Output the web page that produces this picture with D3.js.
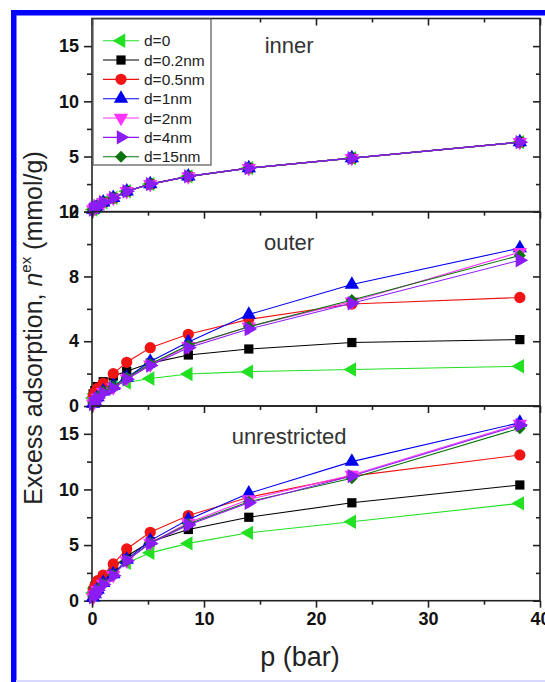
<!DOCTYPE html>
<html>
<head>
<meta charset="utf-8">
<script src="https://cdn.jsdelivr.net/npm/d3@7"></script>
<style>
  body { margin: 0; background: #fff; }
  text { font-family: "Liberation Sans", Arial, sans-serif; }
</style>
</head>
<body>
<div id="chart"></div>
<script>
// pressures shared by every isotherm (bar)
var pressure = [0.1, 0.25, 0.5, 1.0, 1.9, 3.1, 5.2, 8.6, 14.0, 23.2, 38.2];

var seriesLabels = ["d=0", "d=0.2nm", "d=0.5nm", "d=1nm", "d=2nm", "d=4nm", "d=15nm"];
var panelTitles = ["inner", "outer", "unrestricted"];
var yTicksInner = [0, 5, 10, 15];
var yTicksOuter = [0, 4, 8, 12];
var yTicksUnres = [0, 5, 10, 15];
var xTicks = [0, 10, 20, 30, 40];

// inner: all seven curves lie on top of each other
var innerAll = [0.2, 0.35, 0.5, 0.85, 1.25, 1.85, 2.5, 3.2, 3.95, 4.85, 6.3];

// outer
var outerD0  = [0.5, 0.75, 0.95, 1.15, 1.35, 1.45, 1.7, 1.98, 2.12, 2.25, 2.45];
var outerD02 = [0.75, 0.95, 1.2, 1.5, 1.85, 2.15, 2.65, 3.15, 3.52, 3.92, 4.1];
var outerD05 = [0.6, 0.85, 1.1, 1.4, 2.0, 2.7, 3.6, 4.43, 5.35, 6.3, 6.7];
var outerD1  = [0.15, 0.3, 0.55, 0.9, 1.25, 1.75, 2.75, 3.95, 5.65, 7.5, 9.75];
var outerD2  = [0.15, 0.3, 0.5, 0.85, 1.15, 1.7, 2.55, 3.7, 4.9, 6.45, 9.5];
var outerD4  = [0.12, 0.28, 0.5, 0.8, 1.1, 1.65, 2.5, 3.6, 4.75, 6.35, 9.0];
var outerD15 = [0.18, 0.35, 0.55, 0.9, 1.2, 1.75, 2.6, 3.75, 4.9, 6.55, 9.3];

// unrestricted
var unrD0  = [0.7, 1.1, 1.5, 1.9, 2.6, 3.4, 4.3, 5.15, 6.1, 7.1, 8.75];
var unrD02 = [0.9, 1.3, 1.7, 2.2, 3.0, 4.0, 5.3, 6.4, 7.5, 8.8, 10.4];
var unrD05 = [0.8, 1.3, 1.8, 2.3, 3.3, 4.65, 6.15, 7.65, 9.3, 11.2, 13.1];
var unrD1  = [0.3, 0.6, 1.0, 1.6, 2.4, 3.7, 5.4, 7.3, 9.65, 12.5, 16.0];
var unrD2  = [0.3, 0.55, 0.95, 1.5, 2.3, 3.6, 5.2, 7.0, 9.1, 11.3, 15.9];
var unrD4  = [0.3, 0.55, 0.95, 1.45, 2.25, 3.6, 5.15, 6.8, 8.8, 11.2, 15.8];
var unrD15 = [0.35, 0.6, 1.0, 1.5, 2.3, 3.6, 5.2, 6.9, 8.9, 11.0, 15.5];

var width = 545, height = 682;
var left = 92, right = 540;
var colors = ["#22e022", "#000000", "#f01414", "#0000f0", "#ff33ff", "#8c1cf5", "#0b730b"];
// symbol type + rotation for each series
var shapes = [
  {type: d3.symbolTriangle, rot: -90, size: 90},
  {type: d3.symbolSquare, rot: 0, size: 85},
  {type: d3.symbolCircle, rot: 0, size: 100},
  {type: d3.symbolTriangle, rot: 0, size: 90},
  {type: d3.symbolTriangle, rot: 180, size: 90},
  {type: d3.symbolTriangle, rot: 90, size: 90},
  {type: d3.symbolSquare, rot: 45, size: 72}
];
// draw order, d=4nm ends on top
var drawOrder = [0, 1, 2, 3, 4, 6, 5];

var panels = [
  {top: 18.5, bottom: 211.7, max: 17.5, ticks: yTicksInner, minor: [2.5, 7.5, 12.5],
   series: [innerAll, innerAll, innerAll, innerAll, innerAll, innerAll, innerAll]},
  {top: 211.7, bottom: 406, max: 12, ticks: yTicksOuter, minor: [2, 6, 10],
   series: [outerD0, outerD02, outerD05, outerD1, outerD2, outerD4, outerD15]},
  {top: 406, bottom: 600.7, max: 17.5, ticks: yTicksUnres, minor: [2.5, 7.5, 12.5],
   series: [unrD0, unrD02, unrD05, unrD1, unrD2, unrD4, unrD15]}
];

var svg = d3.select("#chart")
  .append("svg")
    .attr("width", width)
    .attr("height", height)
    .style("background-color", "#fff");

// blue frame of the scanned page
svg.append("rect").attr("x", 11).attr("y", 10).attr("width", 5.5).attr("height", height - 10).attr("fill", "#0000ff");
svg.append("rect").attr("x", 11).attr("y", 10).attr("width", width - 11).attr("height", 5.5).attr("fill", "#0000ff");
svg.append("rect").attr("x", 16).attr("y", 680).attr("width", width - 16).attr("height", 2).attr("fill", "#d8d8ff");

var x = d3.scaleLinear().domain([0, 40]).range([left, right]);

var line = d3.line();

panels.forEach(function(p, pi) {
  var y = d3.scaleLinear().domain([0, p.max]).range([p.bottom, p.top]);
  var g = svg.append("g");

  // left axis, outward ticks
  g.append("g")
    .attr("transform", "translate(" + left + ",0)")
    .call(d3.axisLeft(y).tickValues(p.ticks).tickSize(8).tickPadding(5).tickSizeOuter(0))
    .call(styleAxis);
  g.append("g")
    .attr("transform", "translate(" + left + ",0)")
    .call(d3.axisLeft(y).tickValues(p.minor).tickSize(5).tickFormat("").tickSizeOuter(0))
    .call(styleAxis);

  // right axis, inward ticks
  g.append("g")
    .attr("transform", "translate(" + right + ",0)")
    .call(d3.axisLeft(y).tickValues(p.ticks).tickSize(7).tickFormat("").tickSizeOuter(0))
    .call(styleAxis);
  g.append("g")
    .attr("transform", "translate(" + right + ",0)")
    .call(d3.axisLeft(y).tickValues(p.minor).tickSize(4).tickFormat("").tickSizeOuter(0))
    .call(styleAxis);

  // top axis, inward ticks
  g.append("g")
    .attr("transform", "translate(0," + p.top + ")")
    .call(d3.axisBottom(x).tickValues(xTicks).tickSize(7).tickFormat("").tickSizeOuter(0))
    .call(styleAxis);
  g.append("g")
    .attr("transform", "translate(0," + p.top + ")")
    .call(d3.axisBottom(x).tickValues([5, 15, 25, 35]).tickSize(4).tickFormat("").tickSizeOuter(0))
    .call(styleAxis);

  // frame
  g.append("rect")
    .attr("x", left).attr("y", p.top)
    .attr("width", right - left).attr("height", p.bottom - p.top)
    .attr("fill", "none").attr("stroke", "#222").attr("stroke-width", 1.6);

  g.append("text")
    .attr("x", x(17.6)).attr("y", y(p.max) + (pi == 0 ? 34 : 38))
    .attr("text-anchor", "middle")
    .attr("font-size", 22)
    .attr("fill", "#333")
    .text(panelTitles[pi]);

  var data = g.append("g");
  drawOrder.forEach(function(si) {
    var pts = pressure.map(function(d, i) { return [x(d), y(p.series[si][i])]; });
    data.append("path")
      .attr("d", line(pts))
      .attr("fill", "none")
      .attr("stroke", colors[si])
      .attr("stroke-width", 1.1);
    var sym = d3.symbol().type(shapes[si].type).size(shapes[si].size);
    data.selectAll(null)
      .data(pts)
      .enter().append("path")
        .attr("d", sym)
        .attr("transform", function(d) { return "translate(" + d[0] + "," + d[1] + ") rotate(" + shapes[si].rot + ")"; })
        .attr("fill", colors[si]);
  });
});

// bottom x axis, outward ticks
var bottomY = panels[2].bottom;
svg.append("g")
  .attr("transform", "translate(0," + bottomY + ")")
  .call(d3.axisBottom(x).tickValues(xTicks).tickSize(7).tickPadding(5).tickSizeOuter(0))
  .call(styleAxis);
svg.append("g")
  .attr("transform", "translate(0," + bottomY + ")")
  .call(d3.axisBottom(x).tickValues([5, 15, 25, 35]).tickSize(4).tickFormat("").tickSizeOuter(0))
  .call(styleAxis);

function styleAxis(sel) {
  sel.select(".domain").remove();
  sel.selectAll(".tick line").attr("stroke", "#222").attr("stroke-width", 1.6);
  sel.selectAll(".tick text")
    .attr("fill", "#111")
    .attr("font-size", 18)
    .attr("font-weight", "bold")
    .style("font-family", "'Liberation Sans', Arial, sans-serif");
}

// legend
var legend = svg.append("g");
legend.append("rect")
  .attr("x", 93).attr("y", 19).attr("width", 118).attr("height", 146)
  .attr("fill", "#fff").attr("stroke", "#555").attr("stroke-width", 1.2);
seriesLabels.forEach(function(lab, i) {
  var ly = 40.7 + i * 19.33;
  legend.append("line")
    .attr("x1", 103).attr("x2", 139).attr("y1", ly).attr("y2", ly)
    .attr("stroke", colors[i]).attr("stroke-width", 1.1);
  legend.append("path")
    .attr("d", d3.symbol().type(shapes[i].type).size(shapes[i].size))
    .attr("transform", "translate(121," + ly + ") rotate(" + shapes[i].rot + ")")
    .attr("fill", colors[i]);
  legend.append("text")
    .attr("x", 144).attr("y", ly + 5.5)
    .attr("font-size", 15.5)
    .attr("fill", "#222")
    .text(lab);
});

// axis titles
svg.append("text")
  .attr("x", 300).attr("y", 666)
  .attr("text-anchor", "middle")
  .attr("font-size", 27)
  .attr("fill", "#222")
  .text("p (bar)");

var yl = svg.append("text")
  .attr("transform", "translate(42,328) rotate(-90)")
  .attr("text-anchor", "middle")
  .attr("font-size", 25)
  .attr("fill", "#222");
yl.append("tspan").text("Excess adsorption, ");
yl.append("tspan").attr("font-style", "italic").text("n");
yl.append("tspan").attr("font-size", 15).attr("dy", -11).text("ex");
yl.append("tspan").attr("dy", 11).text(" (mmol/g)");
</script>
</body>
</html>
